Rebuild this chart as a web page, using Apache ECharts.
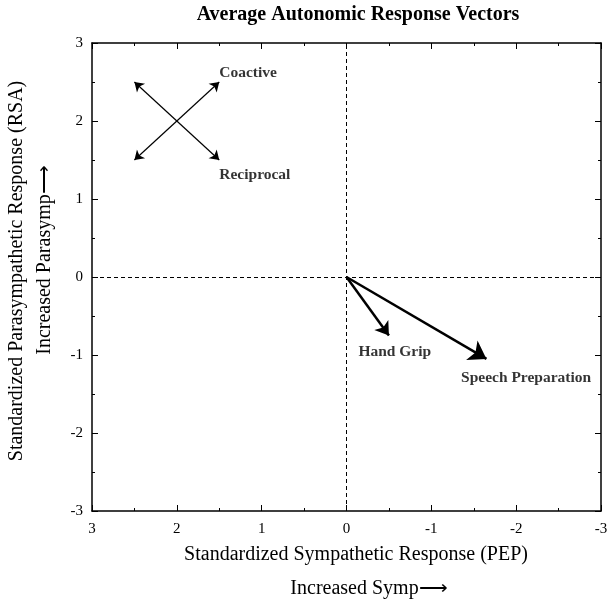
<!DOCTYPE html>
<html>
<head>
<meta charset="utf-8">
<script src="https://cdn.jsdelivr.net/npm/echarts@6/dist/echarts.min.js"></script>
<style>html,body{margin:0;padding:0;background:#fff}#c{width:614px;height:607px}</style>
</head>
<body>
<div id="c"></div>
<script>
// Data
var titleText = 'Average Autonomic Response Vectors';
var xNameLines = ['Standardized Sympathetic Response (PEP)', 'Increased Symp', '\u27F6'];
var yNameLines = ['Standardized Parasympathetic Response (RSA)', 'Increased Parasymp', '\u27F6'];
// double-headed reference vectors: [x0, y0, x1, y1]
var coactive = [2.5, 1.5, 1.5, 2.5];
var reciprocal = [2.5, 2.5, 1.5, 1.5];
// response vectors from origin
var handGrip = [0, 0, -0.5, -0.75];
var speechPrep = [0, 0, -1.65, -1.05];
// labels
var labelNames = ['Coactive', 'Reciprocal', 'Hand Grip', 'Speech Preparation'];
var labelX = [1.5, 1.5, -0.14, -1.35];
var labelY = [2.62, 1.31, -0.96, -1.29];

var FONT = '"Liberation Serif", "Times New Roman", serif';
function seg(a){ return [[a[0], a[1]], [a[2], a[3]]]; }
function axisCommon(pos, showLabel){
  return {
    type: 'value', min: -3, max: 3, interval: 1, position: pos,
    axisLine: {show: true, onZero: false, lineStyle: {color: '#000', width: 1.5}},
    axisTick: {show: true, inside: true, length: 6, lineStyle: {color: '#000', width: 1}},
    minorTick: {show: true, splitNumber: 2, length: 3, lineStyle: {color: '#000', width: 1}},
    axisLabel: {show: showLabel, color: '#000', fontFamily: FONT, fontSize: 15, margin: 9},
    splitLine: {show: false}, minorSplitLine: {show: false}
  };
}
var xb = axisCommon('bottom', true); xb.inverse = true; xb.axisLabel.margin = 11;
var xt = axisCommon('top', false); xt.inverse = true;
var yl = axisCommon('left', true);
var yr = axisCommon('right', false);

var richName = {
  t: {fontFamily: FONT, fontSize: 20, color: '#000'},
  a: {fontFamily: FONT, fontSize: 20, color: '#666', fontWeight: 'lighter'}
};
function twoPart(lines){ return '{t|' + lines[1] + '}{a|' + lines[2] + '}'; }

var chart = echarts.init(document.getElementById('c'));
chart.setOption({
  animation: false,
  backgroundColor: '#fff',
  grid: {left: 92, right: 13, top: 43, bottom: 96},
  xAxis: [xb, xt],
  yAxis: [yl, yr],
  graphic: [
    {type: 'text', x: 358, y: 15, style: {text: titleText, fill: '#000', font: 'bold 20px ' + FONT, align: 'center', verticalAlign: 'middle'}},
    {type: 'text', x: 356, y: 555, style: {text: xNameLines[0], fill: '#000', font: '20px ' + FONT, align: 'center', verticalAlign: 'middle'}},
    {type: 'text', x: 369, y: 589, style: {text: twoPart(xNameLines), rich: richName, align: 'center', verticalAlign: 'middle'}},
    {type: 'text', x: 17, y: 271, rotation: Math.PI / 2, style: {text: yNameLines[0], fill: '#000', font: '20px ' + FONT, align: 'center', verticalAlign: 'middle'}},
    {type: 'text', x: 45, y: 260, rotation: Math.PI / 2, style: {text: twoPart(yNameLines), rich: richName, align: 'center', verticalAlign: 'middle'}}
  ],
  series: [
    {
      type: 'lines', coordinateSystem: 'cartesian2d', xAxisIndex: 0, yAxisIndex: 0,
      symbol: ['arrow', 'arrow'], symbolSize: 9,
      lineStyle: {color: '#000', width: 1.2, opacity: 1},
      data: [{coords: seg(coactive)}, {coords: seg(reciprocal)}],
      markLine: {
        silent: true, symbol: ['none', 'none'], label: {show: false},
        lineStyle: {color: '#000', type: [4, 3], width: 1},
        data: [{xAxis: 0}, {yAxis: 0}]
      }
    },
    {
      type: 'lines', coordinateSystem: 'cartesian2d',
      symbol: ['none', 'arrow'], symbolSize: 13,
      lineStyle: {color: '#000', width: 2.5, opacity: 1},
      data: [{coords: seg(handGrip)}]
    },
    {
      type: 'lines', coordinateSystem: 'cartesian2d',
      symbol: ['none', 'arrow'], symbolSize: 17,
      lineStyle: {color: '#000', width: 2.5, opacity: 1},
      data: [{coords: seg(speechPrep)}]
    },
    {
      type: 'scatter', symbolSize: 0,
      data: labelNames.map(function(n, i){ return {name: n, value: [labelX[i], labelY[i]]}; }),
      label: {show: true, position: 'right', distance: 0, formatter: '{b}', color: '#000', fontFamily: FONT, fontWeight: 'bold', fontSize: 15.5}
    }
  ]
});
</script>
</body>
</html>
